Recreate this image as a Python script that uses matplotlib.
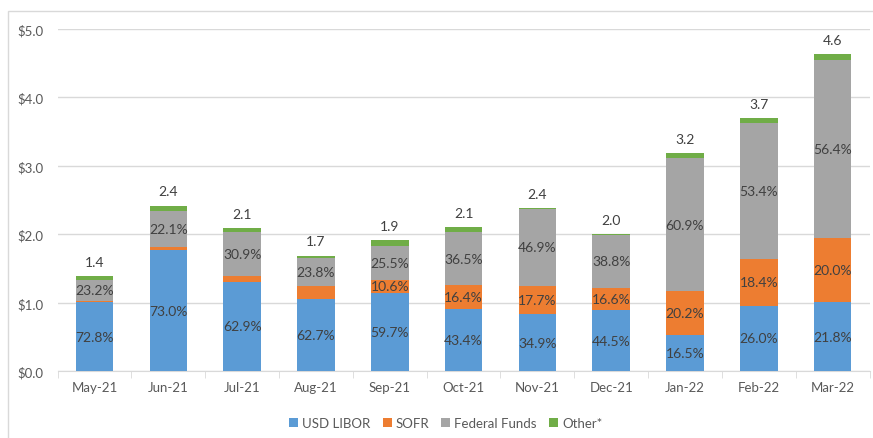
import numpy as np
import matplotlib
matplotlib.use('Agg')
import matplotlib.pyplot as plt
from matplotlib.patches import Rectangle

months = ['May-21', 'Jun-21', 'Jul-21', 'Aug-21', 'Sep-21', 'Oct-21',
          'Nov-21', 'Dec-21', 'Jan-22', 'Feb-22', 'Mar-22']

# segment values in $
libor = [1.01, 1.77, 1.31, 1.06, 1.14, 0.91, 0.83, 0.89, 0.53, 0.96, 1.01]
sofr = [0.01, 0.04, 0.08, 0.19, 0.20, 0.35, 0.42, 0.33, 0.64, 0.68, 0.93]
fed_funds = [0.32, 0.53, 0.65, 0.40, 0.49, 0.77, 1.12, 0.77, 1.94, 1.98, 2.61]
other = [0.05, 0.08, 0.05, 0.04, 0.08, 0.07, 0.01, 0.01, 0.08, 0.08, 0.08]

totals = ['1.4', '2.4', '2.1', '1.7', '1.9', '2.1', '2.4', '2.0', '3.2', '3.7', '4.6']
libor_pct = ['72.8%', '73.0%', '62.9%', '62.7%', '59.7%', '43.4%', '34.9%', '44.5%', '16.5%', '26.0%', '21.8%']
sofr_pct = ['', '', '', '', '10.6%', '16.4%', '17.7%', '16.6%', '20.2%', '18.4%', '20.0%']
fed_pct = ['23.2%', '22.1%', '30.9%', '23.8%', '25.5%', '36.5%', '46.9%', '38.8%', '60.9%', '53.4%', '56.4%']

series = [('USD LIBOR', libor, '#5B9BD5', libor_pct),
          ('SOFR', sofr, '#ED7D31', sofr_pct),
          ('Federal Funds', fed_funds, '#A5A5A5', fed_pct),
          ('Other*', other, '#70AD47', None)]

plt.rcParams['font.family'] = ['Lato', 'DejaVu Sans']

fig = plt.figure(figsize=(8.73, 4.39), dpi=100)
ax = fig.add_axes([0.066, 0.152, 0.930, 0.780])

# chart border
fig.patches.append(Rectangle((8 / 873, -0.1), 1.0, (439 - 12) / 439 + 0.1,
                             transform=fig.transFigure, fill=False,
                             edgecolor='#D9D9D9', linewidth=1.0))

x = np.arange(len(months))
bottom = np.zeros(len(months))
for name, vals, color, labels in series:
    vals = np.array(vals)
    ax.bar(x, vals, 0.51, bottom=bottom, color=color, label=name, zorder=3)
    if labels is not None:
        for i, lab in enumerate(labels):
            if lab:
                ax.text(x[i], bottom[i] + vals[i] / 2, lab, ha='center', va='center',
                        fontsize=10, color='#404040', zorder=4)
    bottom += vals

for i, t in enumerate(totals):
    ax.text(x[i], bottom[i] + 0.12, t, ha='center', va='bottom',
            fontsize=10, color='#404040')

ax.set_xlim(-0.5, len(months) - 0.5)
ax.set_ylim(0, 5)
ax.set_yticks(np.arange(0, 5.01, 1.0))
ax.set_yticklabels([f'${v:.1f}' for v in np.arange(0, 5.01, 1.0)])
ax.set_xticks(x)
ax.set_xticklabels(months)
ax.set_xticks(np.arange(-0.5, len(months), 1.0), minor=True)
ax.tick_params(axis='x', which='major', length=0, pad=7, labelsize=9.5, labelcolor='#595959')
ax.tick_params(axis='x', which='minor', length=5, color='#D9D9D9', direction='out')
ax.tick_params(axis='y', length=0, pad=10, labelsize=9.5, labelcolor='#595959')
ax.grid(axis='y', color='#D9D9D9', linewidth=1.0, zorder=0)
for s in ['top', 'right', 'left']:
    ax.spines[s].set_visible(False)
ax.spines['bottom'].set_color('#D9D9D9')

leg = ax.legend(loc='lower center', bbox_to_anchor=(0.478, -0.185), ncol=4, frameon=False,
                fontsize=9.5, handlelength=0.7, handleheight=0.7, handletextpad=0.3,
                columnspacing=0.9, borderaxespad=0)
for t in leg.get_texts():
    t.set_color('#595959')

fig.savefig('out.png', dpi=100)
